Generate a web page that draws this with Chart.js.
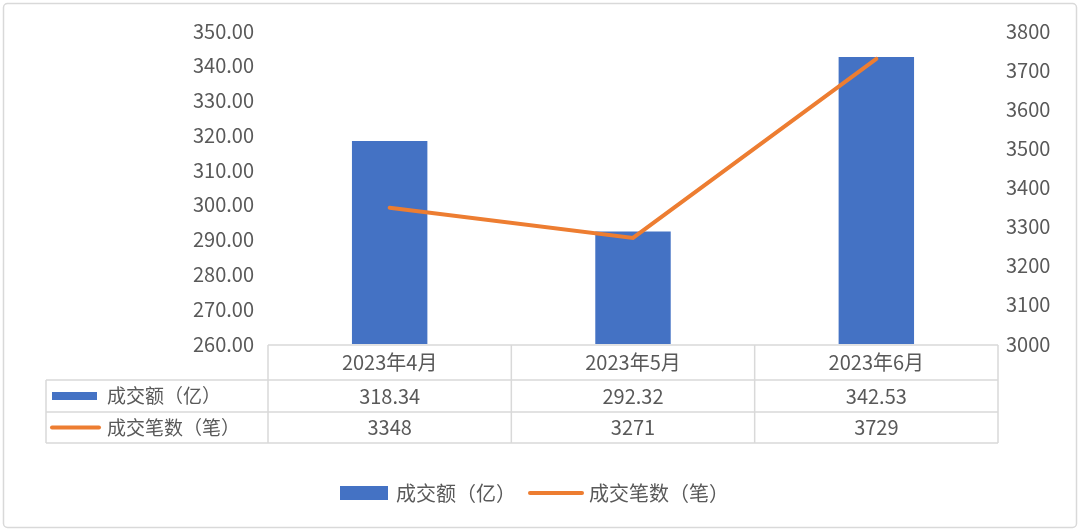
<!DOCTYPE html>
<html>
<head>
<meta charset="utf-8">
<script src="https://cdn.jsdelivr.net/npm/chart.js@4"></script>
<style>
  html, body { margin: 0; padding: 0; background: #fff; }
  #wrap { width: 1080px; height: 532px; }
</style>
</head>
<body>
<div id="wrap"><canvas id="grafico" width="1080" height="532"></canvas></div>
<script>
// dados
var categorias = ['2023年4月', '2023年5月', '2023年6月'];
var nomeValor = '成交额（亿）';
var nomeNumero = '成交笔数（笔）';
var valores = [318.34, 292.32, 342.53];
var numeros = [3348, 3271, 3729];
var ticksEsq = [260, 270, 280, 290, 300, 310, 320, 330, 340, 350];
var ticksDir = [3000, 3100, 3200, 3300, 3400, 3500, 3600, 3700, 3800];

var AZUL = '#4472C4';
var LARANJA = '#ED7D31';
var TEXTO = '#595959';
var LINHA = '#D9D9D9';
var FONTE = '"Noto Sans CJK SC", "Noto Sans", sans-serif';

// tabela de dados sob o eixo x + legenda + moldura
var tabelaPlugin = {
    id: 'tabela',
    beforeDraw: function(chart) {
        var ctx = chart.ctx;
        ctx.save();
        ctx.strokeStyle = LINHA;
        ctx.lineWidth = 1.5;
        ctx.beginPath();
        if (ctx.roundRect) ctx.roundRect(3.5, 3.5, 1073, 524, 4); else ctx.rect(3.5, 3.5, 1073, 524);
        ctx.stroke();
        ctx.restore();
    },
    afterDraw: function(chart) {
        var ctx = chart.ctx;
        var area = chart.chartArea;
        var x = chart.scales.x;
        var topo = area.bottom + 1;
        var alturas = [35, 32, 31];
        var esquerda = 46;
        var n = categorias.length;
        var larg = (area.right - area.left) / n;
        var y0 = topo, y1 = topo + alturas[0], y2 = y1 + alturas[1], y3 = y2 + alturas[2];

        ctx.save();
        ctx.strokeStyle = LINHA;
        ctx.lineWidth = 1.5;
        ctx.beginPath();
        ctx.moveTo(area.left, y0); ctx.lineTo(area.right, y0);
        [y1, y2, y3].forEach(function(yy) { ctx.moveTo(esquerda, yy); ctx.lineTo(area.right, yy); });
        for (var i = 0; i <= n; i++) {
            var xx = area.left + larg * i;
            ctx.moveTo(xx, y0); ctx.lineTo(xx, y3);
        }
        ctx.moveTo(esquerda, y1); ctx.lineTo(esquerda, y3);
        ctx.stroke();

        ctx.fillStyle = TEXTO;
        ctx.font = '20px ' + FONTE;
        ctx.textAlign = 'center';
        ctx.textBaseline = 'middle';
        for (var j = 0; j < n; j++) {
            var cx = x.getPixelForValue(j);
            ctx.fillText(categorias[j], cx, (y0 + y1) / 2);
            ctx.fillText(valores[j].toFixed(2), cx, (y1 + y2) / 2);
            ctx.fillText(String(numeros[j]), cx, (y2 + y3) / 2);
        }

        // rótulos das linhas com ícones
        ctx.fillStyle = AZUL;
        ctx.fillRect(52, (y1 + y2) / 2 - 4, 45, 8);
        ctx.strokeStyle = LARANJA;
        ctx.lineWidth = 4;
        ctx.lineCap = 'round';
        ctx.beginPath();
        ctx.moveTo(52, (y2 + y3) / 2); ctx.lineTo(99, (y2 + y3) / 2);
        ctx.stroke();
        ctx.fillStyle = TEXTO;
        ctx.textAlign = 'left';
        ctx.font = '19px ' + FONTE;
        ctx.fillText(nomeValor, 107, (y1 + y2) / 2);
        ctx.fillText(nomeNumero, 107, (y2 + y3) / 2);

        // legenda inferior
        var ly = 493;
        ctx.font = '20px ' + FONTE;
        ctx.fillStyle = AZUL;
        ctx.fillRect(340, ly - 7, 48, 14);
        ctx.fillStyle = TEXTO;
        ctx.fillText(nomeValor, 396, ly);
        var lx = 530;
        ctx.strokeStyle = LARANJA;
        ctx.beginPath();
        ctx.moveTo(lx, ly); ctx.lineTo(lx + 52, ly);
        ctx.stroke();
        ctx.fillText(nomeNumero, 589, ly);
        ctx.restore();
    }
};

new Chart(document.getElementById('grafico').getContext('2d'), {
    type: 'bar',
    data: {
        labels: categorias,
        datasets: [{
            type: 'line',
            label: nomeNumero,
            data: numeros,
            yAxisID: 'y1',
            borderColor: LARANJA,
            backgroundColor: LARANJA,
            borderWidth: 4,
            pointRadius: 0,
            tension: 0,
            borderCapStyle: 'round',
            order: 0
        }, {
            label: nomeValor,
            data: valores,
            yAxisID: 'y',
            backgroundColor: AZUL,
            barPercentage: 0.31,
            categoryPercentage: 1,
            order: 1
        }]
    },
    options: {
        responsive: false,
        animation: false,
        layout: { padding: { top: 31, bottom: 188, left: 0, right: 0 } },
        plugins: { legend: { display: false }, tooltip: { enabled: false } },
        scales: {
            x: { display: false, offset: true },
            y: {
                position: 'left',
                min: 260, max: 350,
                afterFit: function(s) { s.width = 268; },
                afterBuildTicks: function(s) { s.ticks = ticksEsq.map(function(v) { return { value: v }; }); },
                grid: { display: false, drawTicks: false },
                border: { display: false },
                ticks: {
                    padding: 14,
                    color: TEXTO,
                    font: { size: 20, family: FONTE },
                    callback: function(v) { return Number(v).toFixed(2); }
                }
            },
            y1: {
                position: 'right',
                min: 3000, max: 3800,
                afterFit: function(s) { s.width = 82; },
                afterBuildTicks: function(s) { s.ticks = ticksDir.map(function(v) { return { value: v }; }); },
                grid: { display: false, drawTicks: false },
                border: { display: false },
                ticks: {
                    padding: 8,
                    color: TEXTO,
                    font: { size: 20, family: FONTE },
                    callback: function(v) { return String(v); }
                }
            }
        }
    },
    plugins: [tabelaPlugin]
});
</script>
</body>
</html>
